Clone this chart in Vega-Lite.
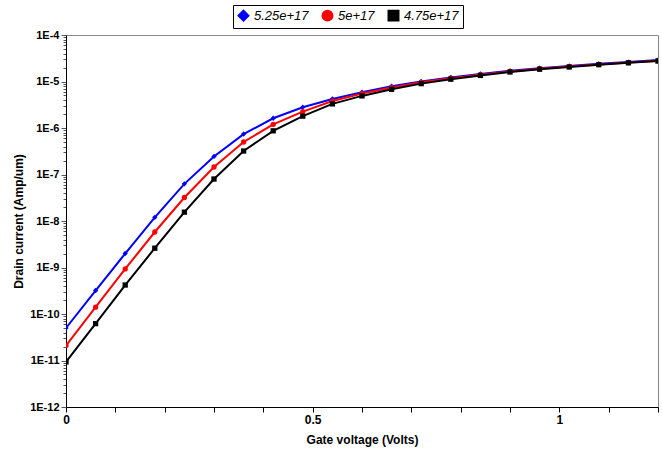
{
  "$schema": "https://vega.github.io/schema/vega-lite/v6.json",
  "width": 592,
  "height": 372,
  "autosize": {"type": "none"},
  "padding": {"left": 66, "top": 35, "right": 4, "bottom": 45},
  "background": "white",
  "config": {
    "view": {"stroke": "#888888", "strokeWidth": 1},
    "font": "Liberation Sans"
  },
  "datasets": {
    "iv": [
      {"v": 0, "I": 5e-11, "s": "5.25e+17"}, {"v": 0.06, "I": 3.2e-10, "s": "5.25e+17"}, {"v": 0.12, "I": 2e-9, "s": "5.25e+17"}, {"v": 0.18, "I": 1.2e-8, "s": "5.25e+17"}, {"v": 0.24, "I": 6.3e-8, "s": "5.25e+17"}, {"v": 0.30, "I": 2.45e-7, "s": "5.25e+17"}, {"v": 0.36, "I": 7.4e-7, "s": "5.25e+17"}, {"v": 0.42, "I": 1.62e-6, "s": "5.25e+17"}, {"v": 0.48, "I": 2.8e-6, "s": "5.25e+17"}, {"v": 0.54, "I": 4.2e-6, "s": "5.25e+17"}, {"v": 0.60, "I": 5.9e-6, "s": "5.25e+17"}, {"v": 0.66, "I": 7.9e-6, "s": "5.25e+17"}, {"v": 0.72, "I": 1.0e-5, "s": "5.25e+17"}, {"v": 0.78, "I": 1.22e-5, "s": "5.25e+17"}, {"v": 0.84, "I": 1.45e-5, "s": "5.25e+17"}, {"v": 0.90, "I": 1.7e-5, "s": "5.25e+17"}, {"v": 0.96, "I": 1.93e-5, "s": "5.25e+17"}, {"v": 1.02, "I": 2.15e-5, "s": "5.25e+17"}, {"v": 1.08, "I": 2.4e-5, "s": "5.25e+17"}, {"v": 1.14, "I": 2.62e-5, "s": "5.25e+17"}, {"v": 1.2, "I": 2.9e-5, "s": "5.25e+17"},
      {"v": 0, "I": 2.1e-11, "s": "5e+17"}, {"v": 0.06, "I": 1.4e-10, "s": "5e+17"}, {"v": 0.12, "I": 9.3e-10, "s": "5e+17"}, {"v": 0.18, "I": 5.8e-9, "s": "5e+17"}, {"v": 0.24, "I": 3.2e-8, "s": "5e+17"}, {"v": 0.30, "I": 1.45e-7, "s": "5e+17"}, {"v": 0.36, "I": 5e-7, "s": "5e+17"}, {"v": 0.42, "I": 1.2e-6, "s": "5e+17"}, {"v": 0.48, "I": 2.25e-6, "s": "5e+17"}, {"v": 0.54, "I": 3.8e-6, "s": "5e+17"}, {"v": 0.60, "I": 5.5e-6, "s": "5e+17"}, {"v": 0.66, "I": 7.4e-6, "s": "5e+17"}, {"v": 0.72, "I": 9.6e-6, "s": "5e+17"}, {"v": 0.78, "I": 1.18e-5, "s": "5e+17"}, {"v": 0.84, "I": 1.4e-5, "s": "5e+17"}, {"v": 0.90, "I": 1.65e-5, "s": "5e+17"}, {"v": 0.96, "I": 1.88e-5, "s": "5e+17"}, {"v": 1.02, "I": 2.1e-5, "s": "5e+17"}, {"v": 1.08, "I": 2.33e-5, "s": "5e+17"}, {"v": 1.14, "I": 2.55e-5, "s": "5e+17"}, {"v": 1.2, "I": 2.8e-5, "s": "5e+17"},
      {"v": 0, "I": 9.3e-12, "s": "4.75e+17"}, {"v": 0.06, "I": 6.2e-11, "s": "4.75e+17"}, {"v": 0.12, "I": 4.2e-10, "s": "4.75e+17"}, {"v": 0.18, "I": 2.6e-9, "s": "4.75e+17"}, {"v": 0.24, "I": 1.55e-8, "s": "4.75e+17"}, {"v": 0.30, "I": 8e-8, "s": "4.75e+17"}, {"v": 0.36, "I": 3.2e-7, "s": "4.75e+17"}, {"v": 0.42, "I": 8.7e-7, "s": "4.75e+17"}, {"v": 0.48, "I": 1.8e-6, "s": "4.75e+17"}, {"v": 0.54, "I": 3.3e-6, "s": "4.75e+17"}, {"v": 0.60, "I": 4.9e-6, "s": "4.75e+17"}, {"v": 0.66, "I": 6.8e-6, "s": "4.75e+17"}, {"v": 0.72, "I": 9e-6, "s": "4.75e+17"}, {"v": 0.78, "I": 1.12e-5, "s": "4.75e+17"}, {"v": 0.84, "I": 1.35e-5, "s": "4.75e+17"}, {"v": 0.90, "I": 1.6e-5, "s": "4.75e+17"}, {"v": 0.96, "I": 1.84e-5, "s": "4.75e+17"}, {"v": 1.02, "I": 2.05e-5, "s": "4.75e+17"}, {"v": 1.08, "I": 2.3e-5, "s": "4.75e+17"}, {"v": 1.14, "I": 2.52e-5, "s": "4.75e+17"}, {"v": 1.2, "I": 2.75e-5, "s": "4.75e+17"}
    ]
  },
  "data": {"name": "iv"},
  "mark": {"type": "line", "strokeWidth": 2, "clip": true, "point": {"filled": true, "size": 28}},
  "encoding": {
    "x": {
      "field": "v", "type": "quantitative",
      "scale": {"domain": [0, 1.2], "nice": false, "zero": false},
      "axis": {
        "title": "Gate voltage (Volts)",
        "values": [0, 0.1, 0.2, 0.3, 0.4, 0.5, 0.6, 0.7, 0.8, 0.9, 1.0, 1.1, 1.2],
        "format": "~g",
        "labelExpr": "abs(datum.value*2 - round(datum.value*2)) < 0.001 ? datum.label : ''",
        "grid": false, "domainColor": "#000", "tickColor": "#000", "tickSize": 5,
        "labelFont": "Liberation Sans", "labelFontWeight": "bold", "labelFontSize": 12, "labelColor": "#000",
        "titleFont": "Liberation Sans", "titleFontWeight": "bold", "titleFontSize": 12, "titleColor": "#000", "titlePadding": 9,
        "labelFlush": false
      }
    },
    "y": {
      "field": "I", "type": "quantitative",
      "scale": {"type": "log", "domain": [1e-12, 1e-4], "nice": false},
      "axis": {
        "title": "Drain current (Amp/um)",
        "values": [1e-12, 2e-12, 3e-12, 4e-12, 5e-12, 6e-12, 7e-12, 8e-12, 9e-12, 1e-11, 2e-11, 3e-11, 4e-11, 5e-11, 6e-11, 7e-11, 8e-11, 9e-11, 1e-10, 2e-10, 3e-10, 4e-10, 5e-10, 6e-10, 7e-10, 8e-10, 9e-10, 1e-9, 2e-9, 3e-9, 4e-9, 5e-9, 6e-9, 7e-9, 8e-9, 9e-9, 1e-8, 2e-8, 3e-8, 4e-8, 5e-8, 6e-8, 7e-8, 8e-8, 9e-8, 1e-7, 2e-7, 3e-7, 4e-7, 5e-7, 6e-7, 7e-7, 8e-7, 9e-7, 1e-6, 2e-6, 3e-6, 4e-6, 5e-6, 6e-6, 7e-6, 8e-6, 9e-6, 1e-5, 2e-5, 3e-5, 4e-5, 5e-5, 6e-5, 7e-5, 8e-5, 9e-5, 1e-4],
        "labelExpr": "abs(log(datum.value)/LN10 - round(log(datum.value)/LN10)) < 0.01 ? ('1E' + round(log(datum.value)/LN10)) : ''",
        "tickSize": {"condition": {"test": "abs(log(datum.value)/LN10 - round(log(datum.value)/LN10)) < 0.01", "value": 5}, "value": 3},
        "grid": false, "domainColor": "#000", "tickColor": "#555",
        "labelFont": "Liberation Sans", "labelFontWeight": "bold", "labelFontSize": 11, "labelColor": "#000", "labelPadding": 2,
        "titleFont": "Liberation Sans", "titleFontWeight": "bold", "titleFontSize": 12, "titleColor": "#000", "titlePadding": 4,
        "labelFlush": false, "labelOverlap": false
      }
    },
    "color": {
      "field": "s", "type": "nominal",
      "sort": ["5.25e+17", "5e+17", "4.75e+17"],
      "scale": {"domain": ["5.25e+17", "5e+17", "4.75e+17"], "range": ["#0000ff", "#ff0000", "#000000"]},
      "legend": {
        "title": null, "orient": "none", "legendX": 167, "legendY": -30, "direction": "horizontal",
        "strokeColor": "#000", "padding": 4, "fillColor": "white",
        "labelFont": "Liberation Sans", "labelFontStyle": "italic", "labelFontSize": 13, "labelColor": "#000",
        "symbolSize": 110, "columnPadding": 10, "labelOffset": 4
      }
    },
    "shape": {
      "field": "s", "type": "nominal",
      "sort": ["5.25e+17", "5e+17", "4.75e+17"],
      "scale": {"domain": ["5.25e+17", "5e+17", "4.75e+17"], "range": ["diamond", "circle", "square"]},
      "legend": null
    }
  }
}
